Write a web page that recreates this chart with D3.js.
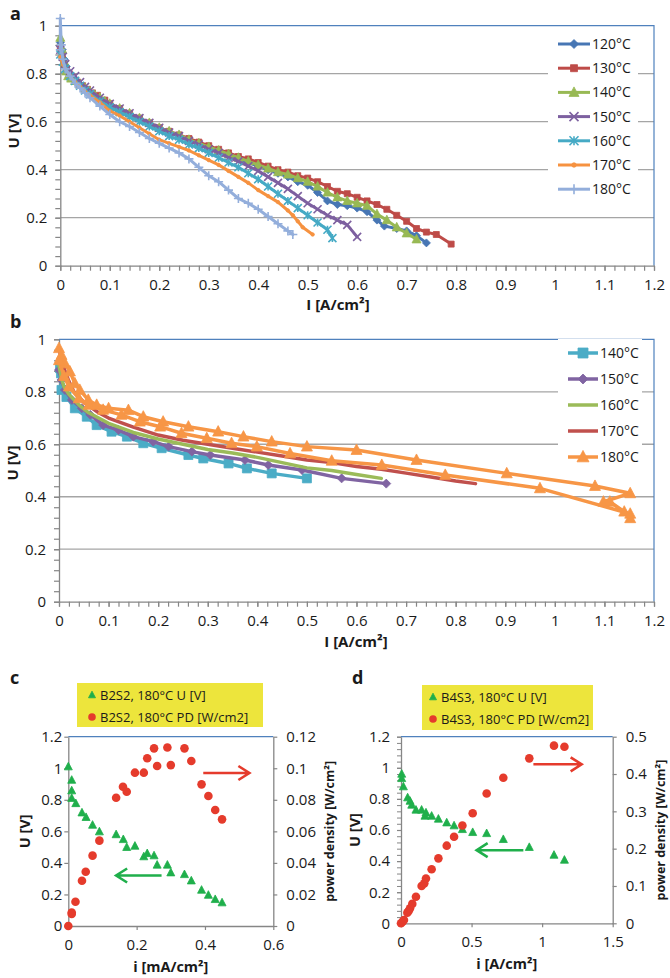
<!DOCTYPE html>
<html><head><meta charset="utf-8">
<script src="https://cdn.jsdelivr.net/npm/d3@7/dist/d3.min.js"></script>
<style>body{margin:0;background:#fff} text{font-family:"Open Sans",sans-serif;fill:#1a1a1a}</style>
</head><body><svg id="chart" width="670" height="978"></svg>
<script>
// ---------- Panel a data: [I (A/cm2), U (V)] ----------
const a120 = [[0,0.93],[0.004,0.90],[0.008,0.86],[0.012,0.83],[0.018,0.80],[0.025,0.78],[0.035,0.76],[0.045,0.745],[0.055,0.73],[0.065,0.715],[0.075,0.70],[0.09,0.685],[0.10,0.67],[0.12,0.65],[0.14,0.63],[0.16,0.61],[0.18,0.59],[0.20,0.57],[0.22,0.555],[0.24,0.54],[0.26,0.52],[0.28,0.505],[0.30,0.49],[0.32,0.475],[0.34,0.46],[0.36,0.445],[0.38,0.43],[0.40,0.415],[0.42,0.40],[0.44,0.385],[0.46,0.37],[0.48,0.35],[0.50,0.335],[0.52,0.305],[0.54,0.27],[0.56,0.255],[0.58,0.25],[0.60,0.24],[0.62,0.225],[0.64,0.19],[0.655,0.165],[0.68,0.155],[0.70,0.145],[0.72,0.125],[0.74,0.095]];
const a130 = [[0,0.91],[0.004,0.87],[0.008,0.84],[0.012,0.82],[0.018,0.80],[0.025,0.785],[0.035,0.765],[0.045,0.75],[0.055,0.735],[0.065,0.72],[0.075,0.71],[0.09,0.69],[0.10,0.675],[0.12,0.655],[0.14,0.635],[0.16,0.615],[0.18,0.595],[0.20,0.575],[0.22,0.56],[0.24,0.545],[0.26,0.53],[0.28,0.515],[0.30,0.50],[0.32,0.485],[0.34,0.47],[0.36,0.455],[0.38,0.445],[0.40,0.43],[0.42,0.415],[0.44,0.40],[0.46,0.39],[0.48,0.375],[0.50,0.365],[0.52,0.35],[0.54,0.33],[0.56,0.31],[0.58,0.30],[0.60,0.285],[0.62,0.27],[0.64,0.255],[0.66,0.235],[0.68,0.21],[0.70,0.185],[0.72,0.155],[0.74,0.14],[0.76,0.13],[0.79,0.09]];
const a140 = [[0,0.95],[0.004,0.90],[0.008,0.85],[0.012,0.81],[0.016,0.79],[0.022,0.78],[0.03,0.77],[0.04,0.755],[0.05,0.74],[0.06,0.725],[0.07,0.71],[0.08,0.70],[0.09,0.685],[0.10,0.675],[0.12,0.655],[0.14,0.635],[0.16,0.615],[0.18,0.595],[0.20,0.575],[0.22,0.56],[0.24,0.545],[0.26,0.525],[0.28,0.51],[0.30,0.495],[0.32,0.48],[0.34,0.465],[0.36,0.45],[0.38,0.435],[0.40,0.42],[0.42,0.405],[0.44,0.39],[0.46,0.38],[0.48,0.365],[0.50,0.35],[0.52,0.33],[0.54,0.305],[0.56,0.285],[0.58,0.27],[0.60,0.26],[0.62,0.25],[0.64,0.215],[0.66,0.19],[0.68,0.16],[0.70,0.135],[0.72,0.11]];
const a150 = [[0,0.90],[0.005,0.87],[0.01,0.84],[0.02,0.81],[0.03,0.79],[0.04,0.765],[0.05,0.745],[0.06,0.73],[0.08,0.70],[0.10,0.675],[0.12,0.655],[0.14,0.635],[0.16,0.615],[0.18,0.595],[0.20,0.575],[0.22,0.555],[0.24,0.54],[0.26,0.52],[0.28,0.505],[0.30,0.485],[0.32,0.47],[0.34,0.45],[0.36,0.435],[0.38,0.415],[0.40,0.395],[0.42,0.37],[0.44,0.345],[0.46,0.32],[0.48,0.29],[0.50,0.26],[0.52,0.235],[0.54,0.21],[0.56,0.19],[0.58,0.17],[0.60,0.12]];
const a160 = [[0,0.88],[0.005,0.85],[0.01,0.82],[0.02,0.79],[0.03,0.77],[0.04,0.75],[0.05,0.73],[0.06,0.715],[0.08,0.685],[0.10,0.66],[0.12,0.64],[0.14,0.62],[0.16,0.60],[0.18,0.58],[0.20,0.56],[0.22,0.54],[0.24,0.525],[0.26,0.505],[0.28,0.49],[0.30,0.47],[0.32,0.45],[0.34,0.43],[0.36,0.41],[0.38,0.385],[0.40,0.36],[0.42,0.33],[0.44,0.30],[0.46,0.27],[0.48,0.24],[0.50,0.21],[0.52,0.18],[0.54,0.15],[0.55,0.115]];
const a170 = [[0,0.87],[0.005,0.84],[0.01,0.82],[0.02,0.79],[0.03,0.765],[0.04,0.745],[0.05,0.725],[0.06,0.71],[0.08,0.68],[0.10,0.645],[0.12,0.625],[0.14,0.60],[0.16,0.575],[0.18,0.55],[0.20,0.525],[0.22,0.51],[0.24,0.495],[0.26,0.48],[0.28,0.46],[0.30,0.44],[0.32,0.42],[0.34,0.395],[0.36,0.37],[0.38,0.345],[0.40,0.315],[0.42,0.29],[0.44,0.265],[0.46,0.23],[0.47,0.21],[0.48,0.185],[0.49,0.16],[0.51,0.13]];
const a180 = [[0,0.90],[0,1.03],[0.002,0.92],[0.005,0.86],[0.01,0.82],[0.02,0.79],[0.03,0.76],[0.04,0.74],[0.05,0.72],[0.06,0.70],[0.08,0.665],[0.10,0.63],[0.12,0.60],[0.14,0.58],[0.16,0.555],[0.18,0.53],[0.20,0.51],[0.22,0.49],[0.24,0.47],[0.26,0.445],[0.28,0.41],[0.30,0.375],[0.32,0.35],[0.34,0.315],[0.36,0.28],[0.38,0.26],[0.40,0.235],[0.42,0.205],[0.44,0.175],[0.46,0.145],[0.47,0.13]];
const labelsA = ["120°C","130°C","140°C","150°C","160°C","170°C","180°C"];
const colorsA = ["#4776B4","#BE4B48","#98B954","#7D60A0","#46AAC5","#F69240","#93AEDB"];
const markersA = ["diamond","square","triangle","x","star","circle","plus"];

// ---------- Panel b data ----------
const b140 = [[0.002,0.89],[0.004,0.87],[0.005,0.807],[0.015,0.78],[0.032,0.737],[0.056,0.705],[0.076,0.673],[0.106,0.648],[0.137,0.629],[0.17,0.604],[0.207,0.585],[0.261,0.559],[0.291,0.546],[0.342,0.527],[0.379,0.508],[0.429,0.489],[0.5,0.47]];
const b150 = [[0,0.883],[0.005,0.845],[0.012,0.807],[0.026,0.769],[0.046,0.737],[0.063,0.712],[0.089,0.673],[0.12,0.654],[0.15,0.629],[0.19,0.61],[0.221,0.591],[0.268,0.572],[0.305,0.559],[0.375,0.54],[0.422,0.521],[0.49,0.502],[0.57,0.47],[0.66,0.45]];
const b160 = [[0,0.90],[0.005,0.85],[0.01,0.82],[0.02,0.79],[0.04,0.75],[0.06,0.72],[0.08,0.70],[0.1,0.68],[0.15,0.645],[0.2,0.62],[0.25,0.60],[0.3,0.58],[0.35,0.567],[0.4,0.55],[0.45,0.53],[0.5,0.51],[0.55,0.50],[0.6,0.485],[0.65,0.47]];
const b170 = [[0,0.96],[0.005,0.93],[0.01,0.89],[0.02,0.84],[0.03,0.80],[0.05,0.76],[0.08,0.72],[0.1,0.70],[0.15,0.665],[0.2,0.635],[0.25,0.615],[0.3,0.60],[0.35,0.585],[0.4,0.57],[0.45,0.555],[0.5,0.54],[0.55,0.53],[0.6,0.515],[0.65,0.505],[0.7,0.49],[0.75,0.475],[0.8,0.46],[0.84,0.45]];
const b180 = [[0,0.966],[0.005,0.94],[0.012,0.908],[0.022,0.877],[0.032,0.832],[0.042,0.807],[0.059,0.769],[0.076,0.75],[0.1,0.737],[0.14,0.73],[0.17,0.705],[0.21,0.686],[0.261,0.667],[0.321,0.648],[0.372,0.629],[0.429,0.61],[0.5,0.591],[0.6,0.578],[0.721,0.54],[0.903,0.489],[1.081,0.441],[1.152,0.413],[1.098,0.381],[1.111,0.381],[1.14,0.343],[1.152,0.318],[1.152,0.335],[0.97,0.432],[0.779,0.483],[0.651,0.521],[0.55,0.537],[0.466,0.565],[0.399,0.591],[0.348,0.604],[0.298,0.623],[0.247,0.642],[0.204,0.667],[0.163,0.686],[0.126,0.712],[0.089,0.731],[0.06,0.75],[0.04,0.775],[0.02,0.82],[0.01,0.86],[0,0.92]];
const labelsB = ["140°C","150°C","160°C","170°C","180°C"];
const colorsB = ["#4BACC6","#8064A2","#9BBB59","#C0504D","#F79646"];
const markersB = ["square","diamond","none","none","triangle"];

// ---------- Panel c data ----------
const cI  = [0,0.01,0.01,0.01,0.022,0.04,0.052,0.071,0.091,0.14,0.161,0.171,0.195,0.221,0.231,0.251,0.26,0.29,0.30,0.34,0.36,0.39,0.41,0.43,0.45];
const cU  = [1.01,0.925,0.858,0.81,0.777,0.718,0.689,0.64,0.598,0.58,0.549,0.499,0.507,0.44,0.46,0.446,0.387,0.387,0.338,0.327,0.287,0.228,0.196,0.169,0.148];
const cPDi = [0,0.01,0.01,0.021,0.04,0.051,0.071,0.091,0.14,0.16,0.171,0.195,0.221,0.231,0.251,0.26,0.29,0.30,0.34,0.36,0.39,0.41,0.43,0.45];
const cPD = [0,0.0085,0.0076,0.0154,0.0287,0.0344,0.0446,0.0541,0.0813,0.0883,0.0851,0.0972,0.0972,0.1063,0.1126,0.1014,0.1132,0.102,0.1126,0.1046,0.0898,0.0824,0.0735,0.0676];
const cLegend = ["B2S2, 180°C U [V]","B2S2, 180°C PD [W/cm2]"];

// ---------- Panel d data ----------
const dUi = [0.005,0.005,0.017,0.047,0.064,0.076,0.106,0.146,0.17,0.177,0.217,0.265,0.324,0.376,0.435,0.508,0.607,0.725,0.909,1.084,1.158];
const dU  = [0.96,0.932,0.879,0.808,0.786,0.761,0.729,0.729,0.69,0.711,0.69,0.671,0.647,0.628,0.604,0.585,0.578,0.54,0.489,0.439,0.407];
const dPDi = [0,0.012,0.021,0.045,0.054,0.064,0.08,0.106,0.146,0.165,0.177,0.217,0.265,0.324,0.376,0.435,0.508,0.607,0.725,0.909,1.084,1.158];
const dPD = [0,0.0045,0.009,0.0286,0.033,0.04,0.052,0.071,0.1,0.107,0.12,0.145,0.174,0.208,0.232,0.262,0.295,0.348,0.39,0.442,0.476,0.473];
const dLegend = ["B4S3, 180°C U [V]","B4S3, 180°C PD [W/cm2]"];

// ---------- tick values ----------
const ticksIVx = [0,0.1,0.2,0.3,0.4,0.5,0.6,0.7,0.8,0.9,1,1.1,1.2];
const ticksIVy = [0,0.2,0.4,0.6,0.8,1];
const ticksCx = [0,0.2,0.4,0.6];
const ticksCyL = [0,0.2,0.4,0.6,0.8,1,1.2];
const ticksCyR = [0,0.02,0.04,0.06,0.08,0.1,0.12];
const ticksDx = [0,0.5,1,1.5];
const ticksDyR = [0,0.1,0.2,0.3,0.4,0.5];

const svg = d3.select("#chart");
const GRID = "#A5A5A5", AXIS = "#868686", BORDER = "#4F81BD";
const fmt = d => String(+(+d).toFixed(3));
const GREEN = "#1FAF4B", RED = "#E53B2C", YELLOW = "#EDE53C";

function markerPath(type, s) {
  const h = s / 2;
  switch (type) {
    case "diamond": return `M0,${-h}L${h},0L0,${h}L${-h},0Z`;
    case "square": return `M${-h},${-h}H${h}V${h}H${-h}Z`;
    case "triangle": return `M0,${-h*1.1}L${h},${h*0.8}L${-h},${h*0.8}Z`;
    case "x": return `M${-h},${-h}L${h},${h}M${-h},${h}L${h},${-h}`;
    case "star": return `M${-h},${-h}L${h},${h}M${-h},${h}L${h},${-h}M0,${-h}L0,${h}`;
    case "plus": return `M${-h},0L${h},0M0,${-h}L0,${h}`;
    case "circle": return `M${h},0A${h},${h} 0 1,1 ${-h},0A${h},${h} 0 1,1 ${h},0Z`;
  }
  return "";
}
function drawMarkers(g, pts, type, s, color) {
  if (type === "none") return;
  const stroked = (type === "x" || type === "star" || type === "plus");
  g.selectAll(null).data(pts).join("path")
    .attr("transform", d => `translate(${d[0]},${d[1]})`)
    .attr("d", markerPath(type, s))
    .attr("fill", stroked ? "none" : color)
    .attr("stroke", color)
    .attr("stroke-width", stroked ? 1.6 : 0.8);
}
function styleAxis(sel, fs) {
  sel.select(".domain").attr("stroke", AXIS).attr("stroke-width", 1.3);
  sel.selectAll(".tick line").attr("stroke", AXIS).attr("stroke-width", 1.2);
  sel.selectAll(".tick text").attr("font-size", fs).attr("font-family", "Open Sans").attr("fill", "#1a1a1a");
}

function ivPanel(o) {
  const x = d3.scaleLinear().domain([0, 1.2]).range([o.x0, o.x1]);
  const y = d3.scaleLinear().domain([0, 1]).range([o.yb, o.yt]);
  const g = svg.append("g");
  g.selectAll(null).data(ticksIVy.filter(v => v > 0 && v < 1)).join("line")
    .attr("x1", o.x0).attr("x2", o.x1).attr("y1", d => y(d)).attr("y2", d => y(d))
    .attr("stroke", GRID).attr("stroke-width", 1.3);
  g.append("path").attr("d", `M${o.x0},${y(1)}H${o.x1}V${o.yb}`).attr("fill", "none")
    .attr("stroke", BORDER).attr("stroke-width", 1.2);
  const minorX = d3.range(0, 61).map(i => i * 0.02);
  const minorY = d3.range(0, 26).map(i => i * 0.04);
  const gxm = g.append("g").attr("transform", `translate(0,${o.yb})`)
    .call(d3.axisBottom(x).tickValues(minorX).tickFormat("").tickSize(5));
  gxm.select(".domain").remove(); gxm.selectAll("line").attr("stroke", AXIS).attr("stroke-width", 1.2);
  const gym = g.append("g").attr("transform", `translate(${o.x0},0)`)
    .call(d3.axisLeft(y).tickValues(minorY).tickFormat("").tickSize(5));
  gym.select(".domain").remove(); gym.selectAll("line").attr("stroke", AXIS).attr("stroke-width", 1.2);
  const gx = g.append("g").attr("transform", `translate(0,${o.yb})`)
    .call(d3.axisBottom(x).tickValues(ticksIVx).tickFormat(fmt).tickSize(5).tickPadding(9).tickSizeOuter(0));
  styleAxis(gx, 15);
  const gy = g.append("g").attr("transform", `translate(${o.x0},0)`)
    .call(d3.axisLeft(y).tickValues(ticksIVy).tickFormat(fmt).tickSize(5).tickPadding(8).tickSizeOuter(0));
  styleAxis(gy, 15);
  const line = d3.line().x(d => x(d[0])).y(d => y(d[1]));
  o.series.forEach((s, i) => {
    const sg = g.append("g");
    sg.append("path").attr("d", line(s)).attr("fill", "none").attr("stroke", o.colors[i])
      .attr("stroke-width", o.lw).attr("stroke-linejoin", "round").attr("stroke-linecap", "round");
    drawMarkers(sg, s.map(d => [x(d[0]), y(d[1])]), o.markers[i], o.ms[i], o.colors[i]);
  });
  const lg = g.append("g");
  lg.append("rect").attr("x", o.leg.x - 10).attr("y", o.leg.y - 14).attr("width", o.leg.w)
    .attr("height", o.leg.dy * o.labels.length + 6).attr("fill", "#fff");
  o.labels.forEach((t, i) => {
    const yy = o.leg.y + i * o.leg.dy;
    lg.append("line").attr("x1", o.leg.x).attr("x2", o.leg.x + o.leg.len).attr("y1", yy).attr("y2", yy)
      .attr("stroke", o.colors[i]).attr("stroke-width", o.lw);
    drawMarkers(lg.append("g"), [[o.leg.x + o.leg.len / 2, yy]], o.markers[i], o.ms[i] + 1, o.colors[i]);
    lg.append("text").attr("x", o.leg.x + o.leg.len + 2).attr("y", yy).attr("dy", "0.36em")
      .attr("font-size", 14).text(t);
  });
  g.append("text").attr("x", o.xt[0]).attr("y", o.xt[1]).attr("text-anchor", "middle")
    .attr("font-size", 15).attr("font-weight", "bold").text("I [A/cm²]");
  g.append("text").attr("transform", `translate(${o.yt_[0]},${o.yt_[1]}) rotate(-90)`)
    .attr("text-anchor", "middle").attr("dy", "0.36em").attr("font-size", 15).attr("font-weight", "bold").text("U [V]");
  g.append("text").attr("x", o.lab[0]).attr("y", o.lab[1]).attr("font-size", 18).attr("font-weight", "bold")
    .attr("font-family", "Liberation Sans").text(o.name);
}

ivPanel({name: "a", lab: [10, 20], x0: 60.3, x1: 654, yb: 265.7, yt: 25.7,
  series: [a120, a130, a140, a150, a160, a170, a180], colors: colorsA, markers: markersA,
  ms: [8, 6, 9, 8, 8, 3.5, 9], lw: 3, labels: labelsA,
  leg: {x: 558, y: 44, dy: 24.2, len: 32, w: 90}, xt: [338, 310], yt_: [14, 131]});
ivPanel({name: "b", lab: [10, 328], x0: 59, x1: 654, yb: 601.7, yt: 339.3,
  series: [b140, b150, b160, b170, b180], colors: colorsB, markers: markersB,
  ms: [9, 9, 0, 0, 11], lw: 3.5, labels: labelsB,
  leg: {x: 568, y: 353, dy: 26, len: 30, w: 84}, xt: [356, 647], yt_: [13, 463]});

function pdPanel(o) {
  const x = d3.scaleLinear().domain(o.xd).range([o.x0, o.x1]);
  const yL = d3.scaleLinear().domain([0, 1.2]).range([o.yb, o.yt]);
  const yR = d3.scaleLinear().domain(o.yrd).range([o.yb, o.yt]);
  const g = svg.append("g");
  g.append("line").attr("x1", o.x0).attr("x2", o.x1).attr("y1", o.yt).attr("y2", o.yt)
    .attr("stroke", BORDER).attr("stroke-width", 1.2);
  if (o.minorL) {
    const gm = g.append("g").attr("transform", `translate(${o.x0},0)`)
      .call(d3.axisLeft(yL).tickValues(d3.range(0, 31).map(i => i * 0.04)).tickFormat("").tickSize(4));
    gm.select(".domain").remove(); gm.selectAll("line").attr("stroke", AXIS);
  }
  const gx = g.append("g").attr("transform", `translate(0,${o.yb})`)
    .call(d3.axisBottom(x).tickValues(o.xt).tickFormat(fmt).tickSize(4).tickPadding(9).tickSizeOuter(0));
  styleAxis(gx, 15);
  const gy = g.append("g").attr("transform", `translate(${o.x0},0)`)
    .call(d3.axisLeft(yL).tickValues(ticksCyL).tickFormat(fmt).tickSize(4).tickPadding(o.padL).tickSizeOuter(0));
  styleAxis(gy, 15);
  const gr = g.append("g").attr("transform", `translate(${o.x1},0)`)
    .call(d3.axisRight(yR).tickValues(o.yrt).tickFormat(fmt).tickSize(4).tickPadding(9).tickSizeOuter(0));
  styleAxis(gr, 15);
  drawMarkers(g.append("g"), o.Ui.map((v, i) => [x(v), yL(o.U[i])]), "triangle", 8, GREEN);
  g.append("g").selectAll(null).data(o.PDi).join("circle")
    .attr("cx", d => x(d)).attr("cy", (d, i) => yR(o.PD[i])).attr("r", 4.3).attr("fill", RED);
  function arrow(x1, x2, yy, color) {
    const dir = x2 > x1 ? 1 : -1;
    g.append("path").attr("d", `M${x1},${yy}H${x2}M${x2 - dir * 11},${yy - 7}L${x2},${yy}L${x2 - dir * 11},${yy + 7}`)
      .attr("fill", "none").attr("stroke", color).attr("stroke-width", 2.6).attr("stroke-linejoin", "miter");
  }
  arrow(x(o.ra[0]), x(o.ra[1]), yR(o.ra[2]), RED);
  arrow(x(o.ga[0]), x(o.ga[1]), yL(o.ga[2]), GREEN);
  g.append("rect").attr("x", o.lb[0]).attr("y", o.lb[1]).attr("width", o.lb[2]).attr("height", o.lb[3]).attr("fill", YELLOW);
  drawMarkers(g.append("g"), [[o.lm, o.lb[1] + 12]], "triangle", 7, GREEN);
  g.append("circle").attr("cx", o.lm).attr("cy", o.lb[1] + 34).attr("r", 3.8).attr("fill", RED);
  o.legend.forEach((t, i) => g.append("text").attr("x", o.lm + 8).attr("y", o.lb[1] + 12 + i * 22)
    .attr("dy", "0.36em").attr("font-size", 13).text(t));
  g.append("text").attr("x", (o.x0 + o.x1) / 2).attr("y", o.xtY).attr("text-anchor", "middle")
    .attr("font-size", 14.5).attr("font-weight", "bold").text(o.xTitle);
  g.append("text").attr("transform", `translate(${o.ytL},${(o.yb + o.yt) / 2}) rotate(-90)`)
    .attr("text-anchor", "middle").attr("dy", "0.36em").attr("font-size", 14.5).attr("font-weight", "bold").text("U [V]");
  g.append("text").attr("transform", `translate(${o.ytR},${(o.yb + o.yt) / 2}) rotate(-90)`)
    .attr("text-anchor", "middle").attr("dy", "0.36em").attr("font-size", 12.5).attr("font-weight", "bold").text("power density [W/cm²]");
  g.append("text").attr("x", o.lab[0]).attr("y", o.lab[1]).attr("font-size", 18).attr("font-weight", "bold")
    .attr("font-family", "Liberation Sans").text(o.name);
}

pdPanel({name: "c", lab: [10, 684], x0: 68.3, x1: 273.3, yb: 926, yt: 736.7, xd: [0, 0.6], xt: ticksCx,
  yrd: [0, 0.12], yrt: ticksCyR, padL: 2, minorL: false,
  Ui: cI, U: cU, PDi: cPDi, PD: cPD, ra: [0.395, 0.53, 0.097], ga: [0.273, 0.14, 0.32],
  lb: [77, 683, 186, 44], lm: 92, legend: cLegend, xTitle: "i [mA/cm²]", xtY: 972, ytL: 25, ytR: 329});
pdPanel({name: "d", lab: [352, 684], x0: 401, x1: 612.7, yb: 923.3, yt: 736.7, xd: [0, 1.5], xt: ticksDx,
  yrd: [0, 0.5], yrt: ticksDyR, padL: 7, minorL: true,
  Ui: dUi, U: dU, PDi: dPDi, PD: dPD, ra: [0.938, 1.28, 0.426], ga: [0.867, 0.536, 0.47],
  lb: [422, 685, 171, 45], lm: 433, legend: dLegend, xTitle: "i [A/cm²]", xtY: 969, ytL: 355, ytR: 660});
</script></body></html>
